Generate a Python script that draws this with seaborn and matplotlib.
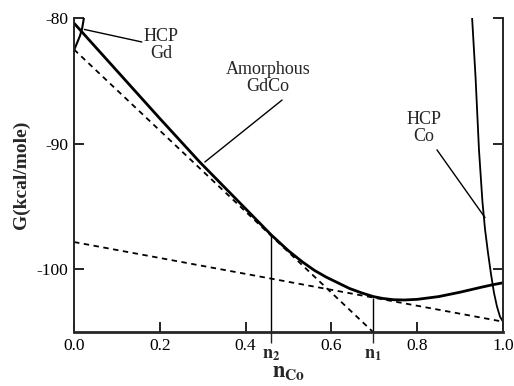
import numpy as np
import pandas as pd
import matplotlib
matplotlib.use("Agg")
import matplotlib.pyplot as plt
import seaborn as sns

# data (x = n_Co, y = G in kcal/mole)
amorph_x = [0.0, 0.1, 0.2, 0.293, 0.38, 0.46, 0.50, 0.533, 0.56, 0.588, 0.615, 0.642, 0.67, 0.698,
            0.72, 0.745, 0.77, 0.8, 0.85, 0.9, 0.95, 0.974, 1.0]
amorph_y = [-80.4, -84.2, -88.0, -91.47, -94.5, -97.29, -98.55, -99.45, -100.1, -100.65, -101.1, -101.55,
            -101.9, -102.2, -102.35, -102.45, -102.47, -102.42, -102.2, -101.85, -101.45, -101.27, -101.1]

hcp_co_x = [0.928, 0.936, 0.944, 0.952, 0.958, 0.965, 0.972, 0.979, 0.986, 0.993, 1.0]
hcp_co_y = [-80.0, -84.7, -90.5, -94.6, -96.8, -98.7, -100.4, -101.9, -103.0, -103.8, -104.2]

hcp_gd_x = [0.0, 0.002, 0.008, 0.014, 0.019, 0.023]
hcp_gd_y = [-82.6, -82.4, -81.9, -81.4, -80.8, -80.0]

tangent1_x = [0.0, 0.697]
tangent1_y = [-82.5, -105.02]
tangent2_x = [0.0, 1.0]
tangent2_y = [-97.85, -104.2]

n2, n1 = 0.459, 0.698
n2_top, n1_top = -97.29, -102.3

x_ticks = [0.0, 0.2, 0.4, 0.6, 0.8, 1.0]
x_tick_labels = ["0.0", "0.2", "0.4", "0.6", "0.8", "1.0"]
y_ticks = [-80, -90, -100]
y_tick_labels = ["-80", "-90", "-100"]

sns.set_theme(style="ticks")
plt.rcParams["font.family"] = ["Liberation Serif", "DejaVu Serif"]
plt.rcParams["mathtext.fontset"] = "stix"
plt.rcParams["axes.unicode_minus"] = False

fig = plt.figure(figsize=(5.14, 3.86), dpi=100)
ax = fig.add_axes([0.144, 0.140, 0.8346, 0.813])

df_am = pd.DataFrame({"x": amorph_x, "y": amorph_y})
df_co = pd.DataFrame({"x": hcp_co_x, "y": hcp_co_y})
df_gd = pd.DataFrame({"x": hcp_gd_x, "y": hcp_gd_y})

sns.lineplot(data=df_am, x="x", y="y", ax=ax, color="black", lw=2.0, estimator=None, sort=False)
sns.lineplot(data=df_co, x="x", y="y", ax=ax, color="black", lw=1.3, estimator=None, sort=False)
sns.lineplot(data=df_gd, x="x", y="y", ax=ax, color="black", lw=1.5, estimator=None, sort=False)
ax.plot(tangent1_x, tangent1_y, color="black", lw=1.3, ls=(0, (3, 2.5)))
ax.plot(tangent2_x, tangent2_y, color="black", lw=1.3, ls=(0, (3, 2.5)))

ax.vlines([n2, n1], -105.02, [n2_top, n1_top], color="black", lw=1.0)

ax.set_xlim(0, 1.0)
ax.set_ylim(-105.02, -80)

ax.spines["top"].set_visible(False)
ax.spines["bottom"].set_linewidth(2.0)
ax.spines["left"].set_linewidth(1.4)
ax.spines["right"].set_linewidth(1.4)

ax.set_xticks(x_ticks)
ax.set_xticklabels(x_tick_labels)
ax.set_yticks(y_ticks)
ax.set_yticklabels(y_tick_labels)
ax.set_xticks([n2, n1], minor=True)
ax.set_xticklabels([r"$\mathbf{n_2}$", r"$\mathbf{n_1}$"], minor=True)
ax.tick_params(axis="both", which="major", direction="in", length=7, width=1.2,
               labelsize=12.5, colors="black", pad=4)
ax.tick_params(axis="y", right=True, labelright=False)
ax.tick_params(axis="x", which="minor", direction="out", length=8, width=1.0,
               labelsize=13, pad=2)

ax.set_xlabel(r"$\mathbf{n}_{\mathbf{Co}}$", fontsize=16, labelpad=0)
ax.set_ylabel("G(kcal/mole)", fontsize=14, fontweight="bold", labelpad=5)

# labels with leader lines
line = dict(arrowstyle="-", color="black", lw=1.0, shrinkA=0, shrinkB=0)
ax.text(0.203, -82.15, "HCP\nGd", ha="center", va="center", fontsize=13, linespacing=1.0)
ax.annotate("", xy=(0.024, -80.9), xytext=(0.158, -81.9), arrowprops=line)
ax.text(0.452, -84.78, "Amorphous\nGdCo", ha="center", va="center", fontsize=13, linespacing=1.0)
ax.annotate("", xy=(0.305, -91.47), xytext=(0.485, -86.53), arrowprops=line)
ax.text(0.816, -88.76, "HCP\nCo", ha="center", va="center", fontsize=13, linespacing=1.0)
ax.annotate("", xy=(0.958, -95.9), xytext=(0.846, -90.5), arrowprops=line)

fig.savefig("out.png", dpi=100)
